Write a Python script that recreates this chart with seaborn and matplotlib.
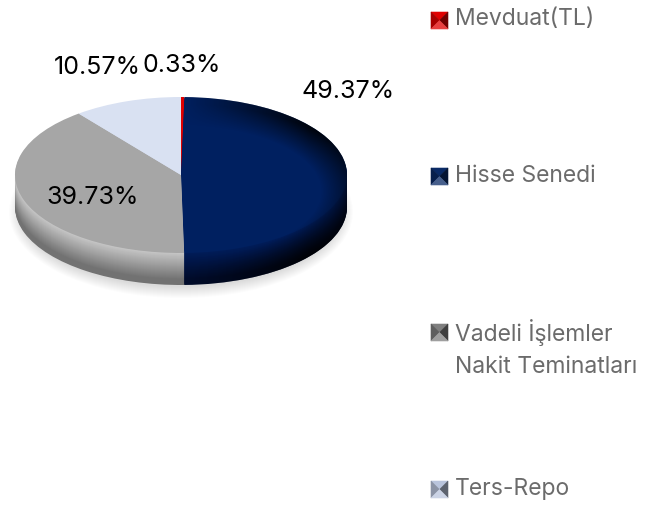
import numpy as np
import seaborn as sns
import matplotlib.pyplot as plt
from matplotlib.patches import Ellipse, Polygon

# data
labels = ["Mevduat(TL)", "Hisse Senedi", "Vadeli İşlemler\nNakit Teminatları", "Ters-Repo"]
values = [0.33, 49.37, 39.73, 10.57]

top_colors = ["#e00000", "#002060", "#a6a6a6", "#d9e1f2"]
rim_light = ["#d00000", "#001c58", "#c6c6c6", "#d9e1f2"]
rim_dark = ["#600000", "#000c2c", "#727272", "#8a8f9c"]

sns.set_theme(style="white")
plt.rcParams["font.family"] = ["Inter", "DejaVu Sans"]

W, H = 651, 507
fig = plt.figure(figsize=(W / 100, H / 100), dpi=100, facecolor="white")

# pie geometry, in pixels
cx, cy, rx, ry, depth = 181, 175, 166, 78, 32

ax = fig.add_axes([0, 0, 1, 1])

for i in range(depth, 0, -1):
    t = 1 - i / depth
    # bright band just under the top, getting darker to the bottom
    shade = min(1, (1 - t) * 1.2)
    cols = [sns.blend_palette([a, b], 101)[int(shade * 100)] for a, b in zip(rim_light, rim_dark)]
    ax.pie(values, colors=cols, startangle=90, counterclock=False, radius=1,
           center=(0, -i / ry), wedgeprops={"linewidth": 0.8, "edgecolor": "none"})

ax.pie(values, colors=top_colors, startangle=90, counterclock=False, radius=1,
       wedgeprops={"linewidth": 0})

ax.set_aspect("auto")
ax.set_xlim(-cx / rx, (W - cx) / rx)
ax.set_ylim(-(H - cy) / ry, cy / ry)
ax.set_axis_off()

# overlay in pixel coordinates
ov = fig.add_axes([0, 0, 1, 1], facecolor="none")
ov.set_axis_off()

# shadow
sh = fig.add_axes([0, 0, 1, 1], facecolor="none", zorder=-1)
sh.set_axis_off()
sh.set_xlim(0, W)
sh.set_ylim(H, 0)
for i in range(12):
    sh.add_patch(Ellipse((cx, cy + depth + 5), 2 * rx + 12 - i * 2, 2 * ry + 16 - i * 2,
                         color="#000000", alpha=0.012, lw=0))

# darkening towards the right edge of the pie
yy, xx = np.mgrid[cy - ry:cy + ry + depth, cx - rx:cx + rx]
d = np.sqrt(((xx - cx) / rx) ** 2 + ((yy - cy - depth / 2) / ry) ** 2)
alpha = np.clip((xx - cx) / rx * 1.3, 0, 1) * np.clip((d - 0.84) / 0.28, 0, 1) * 0.85
rgba = np.zeros(xx.shape + (4,))
rgba[..., 3] = alpha
im = ov.imshow(rgba, extent=(cx - rx, cx + rx, cy + ry + depth, cy - ry), aspect="auto", zorder=3)
a = np.linspace(0, np.pi, 200)
outline = np.r_[np.c_[cx + rx * np.cos(a), cy - ry * np.sin(a)],
                np.c_[cx - rx * np.cos(a), cy + depth + ry * np.sin(a)]]
clip = Polygon(outline, transform=ov.transData, fc="none", ec="none")
ov.add_patch(clip)
im.set_clip_path(clip)
ov.set_xlim(0, W)
ov.set_ylim(H, 0)

# value labels
label_pos = [(182, 66), (348, 92), (93, 197), (97, 68)]
for v, (x, y) in zip(values, label_pos):
    ov.text(x, y, f"{v:.2f}%", fontsize=18, color="black", ha="center", va="center", zorder=5)


def swatch(x, y, color, s=17):
    # small bevelled square like the legend keys
    dark = sns.blend_palette([color, "#000000"], 5)
    light = sns.blend_palette([color, "#ffffff"], 5)
    m = (x + s / 2, y + s / 2)
    tl, tr, br, bl = (x, y), (x + s, y), (x + s, y + s), (x, y + s)
    for pts, c in [([tl, tr, m], color), ([tr, br, m], dark[2]),
                   ([bl, tl, m], dark[1]), ([br, bl, m], light[1])]:
        ov.add_patch(Polygon(pts, fc=c, ec=c, lw=0.4, zorder=5))


# legend
legend_y = [19, 176, 332, 489]
key_colors = ["#e00000", "#0a2a66", "#7f7f7f", "#b9c4dc"]
for name, y, c in zip(labels, legend_y, key_colors):
    swatch(431, y - 7 if y == 19 else y - 8, c)
    for k, line in enumerate(name.split("\n")):
        ov.text(455, y + k * 35, line, fontsize=16.5, color="#6b6b6b", ha="left", va="center", zorder=5)

fig.savefig("out.png", dpi=100)
